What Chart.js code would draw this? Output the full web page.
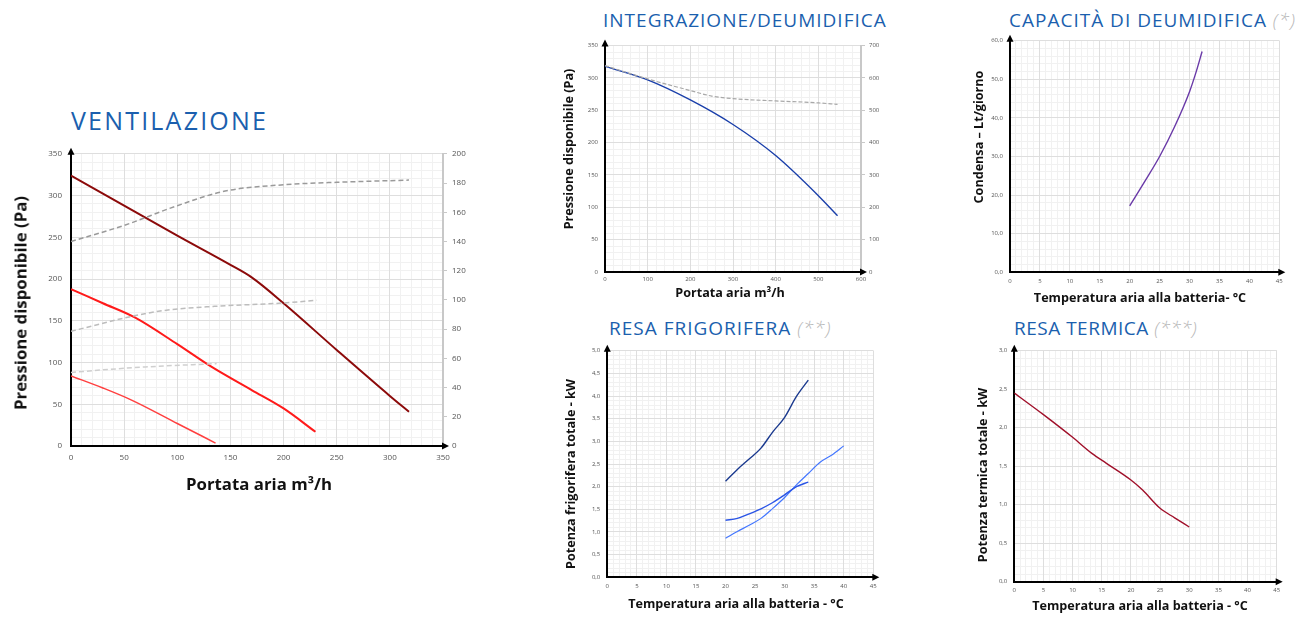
<!DOCTYPE html>
<html>
<head>
<meta charset="utf-8">
<script src="https://cdn.jsdelivr.net/npm/chart.js"></script>
<style>
body { margin: 0; background: #fff; width: 1307px; height: 617px; position: relative; overflow: hidden; font-family: "Open Sans", sans-serif; }
.box { position: absolute; }
.title { position: absolute; color: #1b5fae; white-space: nowrap; transform: translate(0, -50%); font-weight: 400; letter-spacing: 1px; }
.title i { color: #b8b8b8; font-weight: 300; }
.atitle { position: absolute; white-space: nowrap; font-weight: 700; color: #111; transform: translate(-50%, -50%); font-size: 12.6px; }
.atitle.v { transform: translate(-50%, -50%) rotate(-90deg); }
</style>
</head>
<body>

<div class="title" style="left:71px; top:120px; font-size:25px; letter-spacing:2.2px;">VENTILAZIONE</div>
<div class="title" style="left:603px; top:20px; font-size:19px;">INTEGRAZIONE/DEUMIDIFICA</div>
<div class="title" style="left:1009px; top:20px; font-size:19px;">CAPACITÀ DI DEUMIDIFICA <i>(*)</i></div>
<div class="title" style="left:609px; top:328px; font-size:19px;">RESA FRIGORIFERA <i>(**)</i></div>
<div class="title" style="left:1014px; top:328px; font-size:19px; letter-spacing:0.5px;">RESA TERMICA <i>(***)</i></div>

<div class="box" style="left:0px; top:140px;"><canvas id="vent" width="480" height="365"></canvas></div>
<div class="box" style="left:555px; top:35px;"><canvas id="integr" width="330" height="270"></canvas></div>
<div class="box" style="left:960px; top:30px;"><canvas id="capac" width="340" height="275"></canvas></div>
<div class="box" style="left:555px; top:340px;"><canvas id="frigo" width="330" height="277"></canvas></div>
<div class="box" style="left:960px; top:340px;"><canvas id="termo" width="340" height="277"></canvas></div>

<div class="atitle v" style="left:20px; top:303px; font-size:16.8px;">Pressione disponibile (Pa)</div>
<div class="atitle" style="left:259px; top:483px; font-size:16.8px;">Portata aria m³/h</div>
<div class="atitle v" style="left:568px; top:149px;">Pressione disponibile (Pa)</div>
<div class="atitle" style="left:730px; top:292px;">Portata aria m³/h</div>
<div class="atitle v" style="left:978px; top:137px;">Condensa – Lt/giorno</div>
<div class="atitle" style="left:1140px; top:297px;">Temperatura aria alla batteria- °C</div>
<div class="atitle v" style="left:570px; top:474px;">Potenza frigorifera totale - kW</div>
<div class="atitle" style="left:736px; top:603px;">Temperatura aria alla batteria - °C</div>
<div class="atitle v" style="left:982px; top:475px;">Potenza termica totale - kW</div>
<div class="atitle" style="left:1140px; top:605px;">Temperatura aria alla batteria - °C</div>

<script>

// DATA ########################################################################

// Ventilazione: pressione (Pa) per le tre velocita'
var ventFlowMax = [0, 50, 100, 150, 170, 200, 250, 300, 318];
var ventPaMax   = [324, 288, 252, 217, 202, 171, 115, 60, 41];
var ventFlowMed = [0, 30, 60, 100, 132, 170, 200, 230];
var ventPaMed   = [188, 171, 154, 122, 95, 67, 45, 17];
var ventFlowMin = [0, 30, 57, 100, 136];
var ventPaMin   = [84, 69.5, 55, 27, 3.5];

// Ventilazione: potenza assorbita (asse destro)
var ventPowFlowMax = [0, 50, 100, 145, 200, 250, 318];
var ventPowMax     = [140, 151, 164.5, 174.5, 178.8, 180.5, 182];
var ventPowFlowMed = [0, 57, 88, 135, 198, 231];
var ventPowMed     = [78.5, 88.7, 92.8, 95.6, 97.8, 99.7];
var ventPowFlowMin = [0, 35, 70, 137];
var ventPowMin     = [50.3, 52.4, 54.1, 56.4];

// Integrazione/deumidifica
var intFlow    = [0, 100, 200, 300, 400, 500, 545];
var intPa      = [318, 297, 266, 228, 180, 118, 87];
var intPowFlow = [0, 100, 200, 250, 300, 400, 500, 545];
var intPow     = [638, 597, 561, 544, 536, 529, 523, 518];

// Capacita' di deumidifica
var capTemp = [20, 22.5, 25, 27.5, 30, 31, 32.1];
var capLt   = [17.2, 23.5, 30, 37.7, 46.8, 51.4, 57.2];

// Resa frigorifera
var frigoTemp    = [20, 22, 24, 26, 28, 30, 32, 34];
var frigoKwHigh  = [2.12, 2.38, 2.61, 2.85, 3.21, 3.53, 3.99, 4.35];
var frigoKwMid   = [1.26, 1.30, 1.40, 1.51, 1.65, 1.82, 2.00, 2.10];
var frigoTempLow = [20, 22, 24, 26, 28, 30, 32, 34, 36, 38, 40];
var frigoKwLow   = [0.86, 1.01, 1.15, 1.30, 1.52, 1.76, 2.04, 2.29, 2.54, 2.70, 2.90];

// Resa termica
var termTemp = [0, 5, 10, 13.3, 15.8, 20, 22, 25, 27.5, 30];
var termKw   = [2.45, 2.17, 1.875, 1.667, 1.537, 1.32, 1.19, 0.953, 0.83, 0.71];


// HELPERS #####################################################################

function pts(xs, ys) {
    return xs.map(function (x, i) { return {x: x, y: ys[i]}; });
}

function comma(v) {
    return v.toFixed(1).replace(".", ",");
}

function line(xs, ys, color, width, axis, dash) {
    return {
        data: pts(xs, ys),
        borderColor: color,
        borderWidth: width,
        borderDash: dash || [],
        yAxisID: axis || "y",
        pointRadius: 0,
        fill: false,
        cubicInterpolationMode: "monotone"
    };
}

var arrowPlugin = {
    id: "axisArrows",
    afterDatasetsDraw: function (chart) {
        var a = chart.chartArea;
        var ctx = chart.ctx;
        ctx.save();
        ctx.fillStyle = "#000";
        ctx.beginPath();
        ctx.moveTo(a.left, a.top - 6);
        ctx.lineTo(a.left - 3.5, a.top + 1);
        ctx.lineTo(a.left + 3.5, a.top + 1);
        ctx.closePath();
        ctx.fill();
        ctx.beginPath();
        ctx.moveTo(a.right + 6, a.bottom);
        ctx.lineTo(a.right - 1, a.bottom - 3.5);
        ctx.lineTo(a.right - 1, a.bottom + 3.5);
        ctx.closePath();
        ctx.fill();
        ctx.restore();
    }
};

// s: {x, y, y2} each {min, max, step, minor}, box: {top, left, right, bottom}
function makeChart(id, datasets, s, box, fontSize, fmtY) {
    var font = {family: "Open Sans", size: fontSize};
    var scales = {
        xm: {
            type: "linear", position: "bottom", min: s.x.min, max: s.x.max,
            ticks: {display: false, stepSize: s.x.minor},
            grid: {color: "#f1f1f1", drawTicks: false, z: -2},
            border: {display: false},
            afterFit: function (sc) { sc.height = 0; }
        },
        ym: {
            type: "linear", position: "left", min: s.y.min, max: s.y.max,
            ticks: {display: false, stepSize: s.y.minor},
            grid: {color: "#f1f1f1", drawTicks: false, z: -2},
            border: {display: false},
            afterFit: function (sc) { sc.width = 0; }
        },
        x: {
            type: "linear", position: "bottom", min: s.x.min, max: s.x.max,
            ticks: {stepSize: s.x.step, autoSkip: false, maxRotation: 0, font: font, color: "#555", padding: s.x.pad},
            grid: {color: "#dedede", drawTicks: false},
            border: {color: "#000", width: 2},
            afterFit: function (sc) { sc.height = box.bottom; }
        },
        y: {
            type: "linear", position: "left", min: s.y.min, max: s.y.max,
            ticks: {stepSize: s.y.step, autoSkip: false, font: font, color: "#555", padding: s.y.pad,
                    callback: fmtY || function (v) { return v; }},
            grid: {color: "#dedede", drawTicks: false},
            border: {color: "#000", width: 2},
            afterFit: function (sc) { sc.width = box.left; }
        }
    };
    if (s.y2) {
        scales.y2 = {
            type: "linear", position: "right", min: s.y2.min, max: s.y2.max,
            ticks: {stepSize: s.y2.step, autoSkip: false, font: font, color: "#555", padding: s.y2.pad},
            grid: {drawOnChartArea: false, color: "#c8c8c8", tickLength: 4},
            border: {color: "#c8c8c8", width: 2},
            afterFit: function (sc) { sc.width = box.right; }
        };
    }
    return new Chart(document.getElementById(id), {
        type: "line",
        data: {datasets: datasets},
        options: {
            responsive: false,
            animation: false,
            layout: {padding: {top: box.top, left: 0, right: s.y2 ? 0 : box.right, bottom: 0}},
            plugins: {legend: {display: false}, tooltip: {enabled: false}},
            scales: scales
        },
        plugins: [arrowPlugin]
    });
}


// VENTILAZIONE ################################################################

makeChart("vent", [
    line(ventPowFlowMax, ventPowMax, "#9a9a9a", 1.5, "y2", [5, 3]),
    line(ventPowFlowMed, ventPowMed, "#bdbdbd", 1.5, "y2", [5, 3]),
    line(ventPowFlowMin, ventPowMin, "#cfcfcf", 1.5, "y2", [5, 3]),
    line(ventFlowMax, ventPaMax, "#8c0a0a", 2),
    line(ventFlowMed, ventPaMed, "#ff1a1a", 2),
    line(ventFlowMin, ventPaMin, "#ff4040", 1.5)
], {
    x:  {min: 0, max: 350, step: 50, minor: 10, pad: 7},
    y:  {min: 0, max: 350, step: 50, minor: 10, pad: 9},
    y2: {min: 0, max: 200, step: 20, pad: 5}
}, {top: 13, left: 71, right: 37, bottom: 59}, 8);


// INTEGRAZIONE/DEUMIDIFICA ####################################################

makeChart("integr", [
    line(intPowFlow, intPow, "#a8a8a8", 1.2, "y2", [4, 2]),
    line(intFlow, intPa, "#1a3faa", 1.4)
], {
    x:  {min: 0, max: 600, step: 100, minor: 20, pad: 4},
    y:  {min: 0, max: 350, step: 50, minor: 10, pad: 7},
    y2: {min: 0, max: 700, step: 100, pad: 4}
}, {top: 10, left: 50, right: 24, bottom: 33}, 6);


// CAPACITA' DI DEUMIDIFICA ####################################################

makeChart("capac", [
    line(capTemp, capLt, "#6a3aa8", 1.4)
], {
    x: {min: 0, max: 45, step: 5, minor: 1, pad: 5},
    y: {min: 0, max: 60, step: 10, minor: 2, pad: 7}
}, {top: 10.7, left: 50, right: 20.7, bottom: 32.7}, 6, comma);


// RESA FRIGORIFERA ############################################################

makeChart("frigo", [
    line(frigoTemp, frigoKwHigh, "#1b3a8f", 1.4),
    line(frigoTemp, frigoKwMid, "#2b55e6", 1.4),
    line(frigoTempLow, frigoKwLow, "#4477ff", 1.2)
], {
    x: {min: 0, max: 45, step: 5, minor: 1, pad: 5},
    y: {min: 0, max: 5, step: 0.5, minor: 0.1, pad: 7}
}, {top: 10.7, left: 52.3, right: 11.7, bottom: 39.7}, 6, comma);


// RESA TERMICA ################################################################

makeChart("termo", [
    line(termTemp, termKw, "#a0102a", 1.4)
], {
    x: {min: 0, max: 45, step: 5, minor: 1, pad: 5},
    y: {min: 0, max: 3, step: 0.5, minor: 0.1, pad: 7}
}, {top: 10.7, left: 54.3, right: 23.3, bottom: 35.3}, 6, comma);

</script>
</body>
</html>
